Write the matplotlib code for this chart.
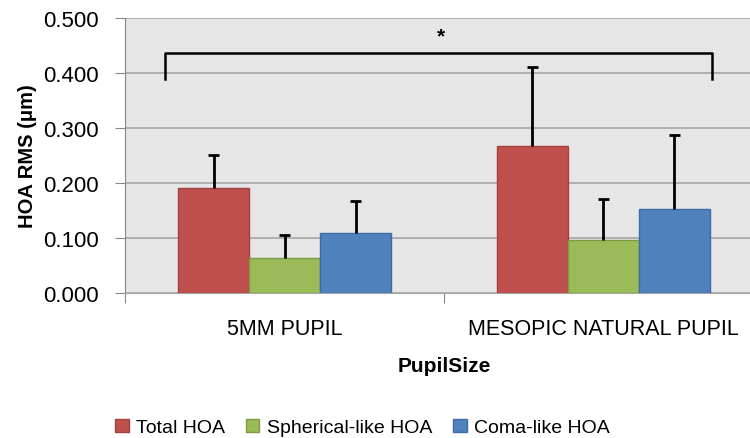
import matplotlib.pyplot as plt
import numpy as np

plt.rcParams['font.family'] = ['Liberation Sans', 'DejaVu Sans']

groups = ['5MM PUPIL', 'MESOPIC NATURAL PUPIL']
series = ['Total HOA', 'Spherical-like HOA', 'Coma-like HOA']
means = np.array([[0.191, 0.268],
                  [0.064, 0.096],
                  [0.109, 0.152]])
sds = np.array([[0.060, 0.143],
                [0.041, 0.075],
                [0.058, 0.135]])
colors = ['#c0504d', '#9bbb59', '#4f81bd']
edges = ['#a4403d', '#7f9a45', '#3c6ca5']

fig = plt.figure(figsize=(7.5, 4.39), dpi=100)
ax = fig.add_axes([0.1667, 0.3303, 0.8506, 0.6264])
ax.set_facecolor('#e6e6e6')

x = np.arange(len(groups))
w = 0.2226
cap = 0.016
for i in range(len(series)):
    pos = x + (i - 1) * w
    ax.bar(pos, means[i], w, color=colors[i], edgecolor=edges[i],
           linewidth=1, label=series[i], zorder=3)
    # upper error bar only
    top = means[i] + sds[i]
    ax.vlines(pos, means[i], top, color='black', linewidth=2, zorder=4)
    ax.hlines(top, pos - cap, pos + cap, color='black', linewidth=2, zorder=4)

ax.set_xlim(-0.5, 1.5)
ax.set_ylim(0, 0.5)
yt = np.arange(0, 0.51, 0.1)
ax.set_yticks(yt)
ax.set_yticklabels(['%.3f' % v for v in yt], fontsize=16)
ax.yaxis.grid(True, color='#a6a6a6', linewidth=1.2, zorder=0)
ax.set_axisbelow(True)

# category labels sit between the tick marks
ax.set_xticks([-0.5, 0.5, 1.5])
ax.set_xticklabels([])
ax.set_xticks(x, minor=True)
ax.set_xticklabels(groups, minor=True, fontsize=15.5)
ax.tick_params(axis='x', which='minor', length=0, pad=18)
ax.tick_params(axis='x', which='major', length=7, color='#888888')
ax.tick_params(axis='y', length=7, color='#888888', pad=12)

for s in ['top', 'right']:
    ax.spines[s].set_visible(False)
ax.spines['left'].set_color('#888888')
ax.spines['bottom'].set_color('#a6a6a6')

# significance bracket
ax.plot([-0.375, -0.375, 1.34, 1.34], [0.39, 0.436, 0.436, 0.39],
        color='black', linewidth=1.8, zorder=5)
ax.text(0.49, 0.468, '*', ha='center', va='center', fontsize=15, fontweight='bold')

ax.set_ylabel('HOA RMS (μm)', fontsize=14.5, fontweight='bold', labelpad=4)
ax.set_xlabel('PupilSize', fontsize=15, fontweight='bold', labelpad=12)

fig.legend(loc='lower left', bbox_to_anchor=(0.13, -0.036), ncol=3, frameon=False,
           fontsize=14, handlelength=0.7, handleheight=0.7, handletextpad=0.4,
           columnspacing=1.05)

fig.savefig('out.png', dpi=100)
